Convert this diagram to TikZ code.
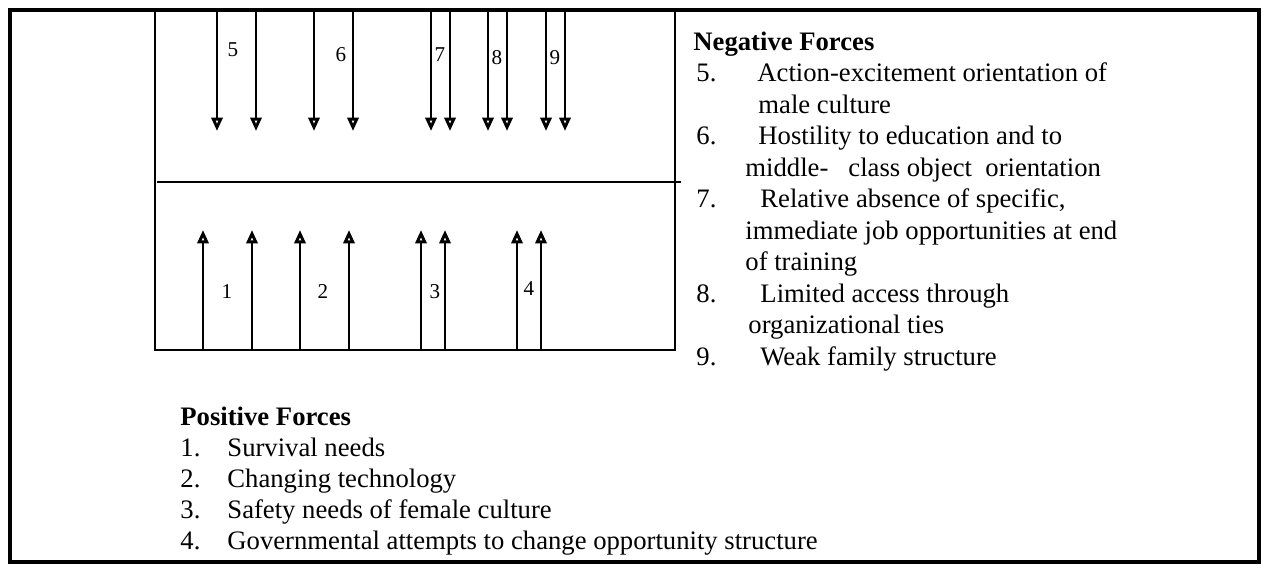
\documentclass[tikz,border=0pt]{standalone}
\usepackage{fontspec}
\setmainfont{Liberation Serif}
\usetikzlibrary{arrows.meta}
\tikzset{
  frame/.style={line width=2.2pt},
  boxline/.style={line width=1pt},
  force/.style={line width=1.1pt,-{Triangle[open,length=6pt,width=5pt,line width=1.3pt]}},
  txt/.style={anchor=base west,inner sep=0pt,font=\fontsize{12}{13.8}\selectfont},
  head/.style={txt,font=\fontsize{12}{13.8}\selectfont\bfseries},
  num/.style={inner sep=0pt,font=\fontsize{9.5}{10}\selectfont}
}
\begin{document}
\begin{tikzpicture}[x=0.45pt,y=-0.45pt]
  \useasboundingbox (0,0) rectangle (1264,571);
  %cornice
  \draw[frame] (10,10) rectangle (1259,562);
  %campo di forze
  \coordinate (boxtl) at (155,10);
  \coordinate (boxbl) at (155,350);
  \coordinate (boxbr) at (675,350);
  \coordinate (boxtr) at (675,10);
  \coordinate (midl) at (157,182);
  \coordinate (midr) at (681,182);
  \draw[boxline] (boxtl) -- (boxbl) -- (boxbr) -- (boxtr);
  \draw[boxline] (midl) -- (midr);
  %forze negative
  \foreach \n/\xa/\xb/\xl/\yl in {5/217/256/233/50,6/314/353/341/55,7/431/450/440/55,8/488/507/497/58,9/546/565/555/58}{
    \coordinate (neg\n a) at (\xa,12);
    \coordinate (neg\n at) at (\xa,131);
    \coordinate (neg\n b) at (\xb,12);
    \coordinate (neg\n bt) at (\xb,131);
    \draw[force] (neg\n a) -- (neg\n at);
    \draw[force] (neg\n b) -- (neg\n bt);
    \node[num] (lab\n) at (\xl,\yl) {\n};
  }
  %forze positive
  \foreach \n/\xa/\xb/\xl/\yl in {1/203/252/227/292,2/300/349/323/292,3/421/445/435/292,4/517/541/529/289}{
    \coordinate (pos\n a) at (\xa,349);
    \coordinate (pos\n at) at (\xa,230);
    \coordinate (pos\n b) at (\xb,349);
    \coordinate (pos\n bt) at (\xb,230);
    \draw[force] (pos\n a) -- (pos\n at);
    \draw[force] (pos\n b) -- (pos\n bt);
    \node[num] (lab\n) at (\xl,\yl) {\n};
  }
  %legenda negativa
  \node[head] (neghead) at (693,50) {Negative Forces};
  \node[txt] (neg5n) at (696,81.5) {5.};
  \node[txt] (neg5t) at (757,81.5) {Action-excitement orientation of};
  \node[txt] (neg5u) at (758,113) {male culture};
  \node[txt] (neg6n) at (696,144.5) {6.};
  \node[txt] (neg6t) at (758,144.5) {Hostility to education and to};
  \node[txt] (neg6u) at (745,176) {middle-~~~class object~~orientation};
  \node[txt] (neg7n) at (696,207.5) {7.};
  \node[txt] (neg7t) at (760,207.5) {Relative absence of specific,};
  \node[txt] (neg7u) at (745,239) {immediate job opportunities at end};
  \node[txt] (neg7v) at (745,270.5) {of training};
  \node[txt] (neg8n) at (696,302) {8.};
  \node[txt] (neg8t) at (760,302) {Limited access through};
  \node[txt] (neg8u) at (748,333.5) {organizational ties};
  \node[txt] (neg9n) at (696,365) {9.};
  \node[txt] (neg9t) at (760,365) {Weak family structure};
  %legenda positiva
  \node[head] (poshead) at (180,425) {Positive Forces};
  \node[txt] (pos1n) at (180,456) {1.};
  \node[txt] (pos1t) at (227,456) {Survival needs};
  \node[txt] (pos2n) at (180,487) {2.};
  \node[txt] (pos2t) at (227,487) {Changing technology};
  \node[txt] (pos3n) at (180,518) {3.};
  \node[txt] (pos3t) at (227,518) {Safety needs of female culture};
  \node[txt] (pos4n) at (180,549) {4.};
  \node[txt] (pos4t) at (227,549) {Governmental attempts to change opportunity structure};
\end{tikzpicture}
\end{document}
